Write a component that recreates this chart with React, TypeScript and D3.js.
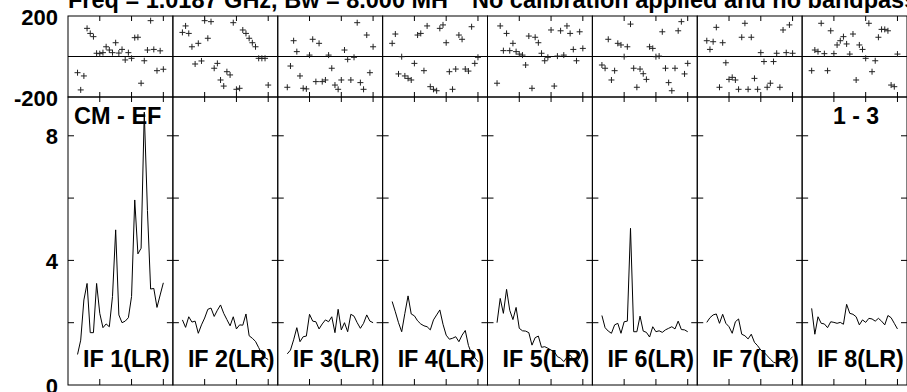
import React from "react";
import * as d3 from "d3";

const channels = [3, 4, 5, 6, 7, 8, 9, 10, 11, 12, 13, 14, 15, 16, 17, 18, 19, 20, 21, 22, 23, 24, 25, 26, 27, 28, 29, 30];
const ifLabels = ["IF 1(LR)", "IF 2(LR)", "IF 3(LR)", "IF 4(LR)", "IF 5(LR)", "IF 6(LR)", "IF 7(LR)", "IF 8(LR)"];

const ampIF1 = [0.98, 1.44, 2.73, 3.26, 1.68, 1.68, 3.26, 2.30, 1.84, 1.96, 1.87, 2.84, 4.98, 2.25, 2.0, 2.05, 2.16, 2.84, 5.94, 4.21, 4.39, 8.76, 5.6, 3.08, 3.10, 2.49, 2.89, 3.28];
const ampIF2 = [2.09, 1.85, 2.19, 2.02, 2.05, 1.66, 1.93, 2.15, 2.43, 2.47, 2.2, 2.4, 2.57, 2.3, 2.1, 1.9, 2.19, 1.8, 1.93, 1.92, 2.28, 1.58, 1.5, 1.4, 1.2, 1.0, 0.88, 0.82];
const ampIF3 = [1.0, 1.12, 1.45, 1.84, 1.39, 1.55, 1.57, 2.27, 2.05, 2.03, 1.80, 1.96, 2.09, 2.03, 2.19, 1.68, 2.43, 1.77, 2.0, 1.71, 2.27, 2.21, 2.0, 1.82, 1.98, 2.25, 2.05, 2.0];
const ampIF4 = [2.68, 2.35, 2.0, 1.71, 2.3, 2.86, 2.28, 2.22, 2.06, 1.96, 1.90, 1.87, 1.77, 2.09, 2.25, 2.41, 1.95, 1.6, 1.47, 1.5, 1.55, 1.39, 1.6, 1.75, 1.27, 1.0, 0.88, 0.75];
const ampIF5 = [2.0, 2.78, 2.30, 3.07, 2.4, 2.1, 2.49, 1.82, 1.74, 1.73, 1.68, 1.28, 1.52, 1.57, 1.21, 1.23, 1.18, 1.12, 1.07, 0.91, 0.86, 0.75, 0.89, 0.96, 0.82, 0.71, 0.89, 1.15];
const ampIF6 = [2.23, 1.84, 1.73, 1.66, 1.93, 1.98, 1.66, 2.03, 2.05, 5.03, 1.71, 1.71, 2.21, 1.73, 1.69, 1.54, 1.87, 1.71, 1.74, 1.69, 1.77, 1.82, 1.87, 1.80, 2.05, 1.78, 1.77, 1.71];
const ampIF7 = [2.01, 2.16, 2.25, 2.28, 1.98, 2.27, 1.98, 1.87, 1.66, 2.03, 2.12, 1.63, 1.58, 1.48, 1.63, 1.37, 1.26, 1.12, 1.05, 0.94, 0.83, 0.73, 0.70, 0.77, 0.83, 0.75, 0.80, 0.91];
const ampIF8 = [2.46, 1.63, 2.19, 1.98, 1.96, 1.84, 2.03, 2.01, 1.98, 2.01, 1.95, 2.59, 2.30, 2.27, 2.19, 1.93, 2.09, 2.01, 2.14, 2.12, 2.05, 2.14, 2.05, 1.93, 2.23, 2.16, 1.98, 1.80];

const phIF1 = [-80, -165, -96, 139, 114, 98, 16, 14, 19, 48, 32, 19, 68, 17, 35, -17, 19, -9, 93, 95, -132, -21, 32, 177, 35, -70, 28, -63];
const phIF2 = [119, 151, 114, 48, -37, 65, -22, 177, 90, 172, -58, -34, -116, -146, -75, -91, 167, -162, -157, 131, 114, 90, 68, 48, -9, -9, -9, -141];
const phIF3 = [-152, -47, 78, 24, -96, -157, -160, 7, 85, -124, 65, -124, -116, 7, -58, -141, -162, -116, 32, -14, -116, -4, 167, -129, -162, 106, -80, 48];
const phIF4 = [65, 111, -86, -1, -96, -108, -116, -34, 106, 114, -70, 151, -149, -162, -169, 139, 156, 68, -75, -162, -62, 106, 85, -62, -72, 147, -34, -4];
const phIF5 = [-132, 151, 29, 114, 29, 65, 24, 12, 7, -42, 101, -157, 95, 68, 16, -21, -4, 131, -146, 2, 127, 7, 151, 114, 35, -21, 122, 40];
const phIF6 = [-42, -58, 85, -116, -70, 65, 57, -1, 48, 160, -58, -152, -62, -85, -113, 48, 40, -1, 2, 122, -58, -129, -169, -58, 127, 172, -86, -34];
const phIF7 = [78, 35, 73, 144, -152, 68, -31, -113, -103, -116, -162, 95, 164, -162, 95, -108, -162, 19, -25, -152, -132, -25, 16, -152, 131, 19, 156, 16];
const phIF8 = [-70, 32, 24, 164, 14, -70, 127, 14, 57, 78, 98, 62, 12, 111, -116, 57, 35, -9, 164, -75, -21, 95, 134, 134, 127, -141, -149, 12];

const ampSeries = [ampIF1, ampIF2, ampIF3, ampIF4, ampIF5, ampIF6, ampIF7, ampIF8];
const phaseSeries = [phIF1, phIF2, phIF3, phIF4, phIF5, phIF6, phIF7, phIF8];

const xTicks = [10, 20, 30];
const ampTicks = [2, 4, 6, 8];
const ampTickLabels = [0, 4, 8];
const phaseTickLabels = [200, -200];

const titleLeft = "Freq = 1.0187 GHz, Bw = 8.000 MH";
const titleRight = "No calibration applied and no bandpass";
const baselineLabel = "CM - EF";
const sourceLabel = "1 - 3";

const FONT = "'Liberation Sans', Arial, Helvetica, sans-serif";

export default function App() {
  const W = 907, H = 392;
  const left = 68, right = 907;
  const nP = ampSeries.length;
  const pw = (right - left) / nP;
  const yPh = d3.scaleLinear().domain([-200, 200]).range([97, 16]);
  const yAmp = d3.scaleLinear().domain([0, 9.245]).range([385, 97]);
  const tl = 5;

  return (
    <svg width={W} height={H} style={{ position: "absolute", left: 0, top: 0, background: "#fff" }} fontFamily={FONT}>
      <rect x={0} y={0} width={W} height={H} fill="#fff" />
      {ampSeries.map((amp, i) => {
        const pl = left + i * pw;
        const x = d3.scaleLinear().domain([0, 33]).range([pl, pl + pw]);
        const line = d3.line<number>().x((_, k) => x(channels[k])).y((v) => yAmp(v));
        const ph = phaseSeries[i];
        return (
          <g key={i}>
            <rect x={pl} y={yPh(200)} width={pw} height={yPh(-200) - yPh(200)} fill="none" stroke="#000" strokeWidth={1} />
            <line x1={pl} x2={pl + pw} y1={yPh(0)} y2={yPh(0)} stroke="#000" strokeWidth={1} />
            {xTicks.map((t) => (
              <g key={t}>
                <line x1={x(t)} x2={x(t)} y1={yPh(200)} y2={yPh(200) + tl} stroke="#000" />
                <line x1={x(t)} x2={x(t)} y1={yPh(-200)} y2={yPh(-200) - tl} stroke="#000" />
              </g>
            ))}
            {ph.map((p, k) => {
              const cx = x(channels[k]);
              const cy = yPh(p);
              return (
                <path key={k} d={`M${cx - 3},${cy}H${cx + 3}M${cx},${cy - 3}V${cy + 3}`} stroke="#222" strokeWidth={1} fill="none" />
              );
            })}
            <rect x={pl} y={yAmp.range()[1]} width={pw} height={yAmp(0) - yAmp.range()[1]} fill="none" stroke="#000" strokeWidth={1} />
            {xTicks.map((t) => (
              <g key={"a" + t}>
                <line x1={x(t)} x2={x(t)} y1={yAmp.range()[1]} y2={yAmp.range()[1] + tl} stroke="#000" />
                <line x1={x(t)} x2={x(t)} y1={yAmp(0)} y2={yAmp(0) - 6} stroke="#000" />
              </g>
            ))}
            {ampTicks.map((t) => (
              <g key={"y" + t}>
                <line x1={pl} x2={pl + 6} y1={yAmp(t)} y2={yAmp(t)} stroke="#000" />
                <line x1={pl + pw} x2={pl + pw - 6} y1={yAmp(t)} y2={yAmp(t)} stroke="#000" />
              </g>
            ))}
            <path d={line(amp) || ""} fill="none" stroke="#000" strokeWidth={1} />
            <text x={pl + 15} y={366.5} fontSize={23.3} fontWeight="bold" fill="#000">{ifLabels[i]}</text>
          </g>
        );
      })}
      {phaseTickLabels.map((t) => (
        <text key={t} x={58} y={yPh(t) + 8.5} textAnchor="end" fontSize={22} fontWeight="bold">{t}</text>
      ))}
      {ampTickLabels.map((t) => (
        <text key={t} x={58} y={yAmp(t) + 8.5} textAnchor="end" fontSize={22} fontWeight="bold">{t}</text>
      ))}
      <text x={74} y={124} fontSize={23.5} fontWeight="bold">{baselineLabel}</text>
      <text x={833} y={124} fontSize={23} fontWeight="bold">{sourceLabel}</text>
      <text x={68} y={7.5} fontSize={23.5} fontWeight="bold">{titleLeft}</text>
      <text x={472} y={7.5} fontSize={23.5} fontWeight="bold">{titleRight}</text>
    </svg>
  );
}
